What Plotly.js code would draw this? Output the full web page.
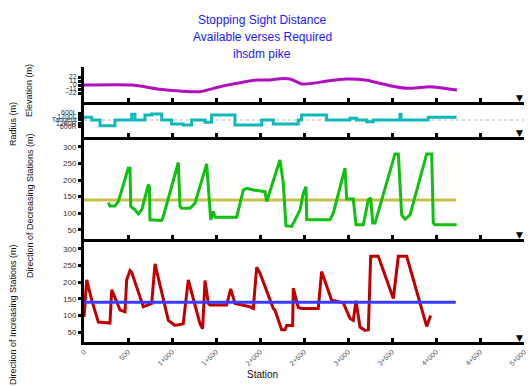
<!DOCTYPE html>
<html>
<head>
<meta charset="utf-8">
<script src="https://cdn.plot.ly/plotly-3.0.1.min.js"></script>
<style>html,body{margin:0;padding:0;background:#fff;}#chart{width:532px;height:387px;}</style>
</head>
<body>
<div id="chart"></div>
<script>
// ---- Data ----
const stationTicks = [0, 500, 1000, 1500, 2000, 2500, 3000, 3500, 4000, 4500, 5000];
const stationTickText = ["0", "500", "1+000", "1+500", "2+000", "2+500", "3+000", "3+500", "4+000", "4+500", "5+000"];

const elevStation = [0, 545, 864, 1091, 1318, 1545, 1738, 1966, 2113, 2227, 2340, 2477, 2602, 2761, 2988, 3215, 3283, 3477, 3670, 3931, 4045, 4238];
const elevValue   = [0, 0, -11.8, -16.5, -18.4, -4.6, 4.7, 13.8, 13.8, 17.3, 16.5, 2.8, 4.7, 11, 16.5, 12.9, 9.1, -1.9, -9.1, -4.6, -7.4, -13.8];
const elevTicks = [22, 11, 0, -11, -22];

// curvature = 1000 / R  (left curves positive, right curves negative)
const curveStation = [0, 87, 182, 352, 542, 579, 693, 769, 883, 996, 1128, 1223, 1375, 1450, 1715, 2019, 2151, 2435, 2473, 2757, 3022, 3098, 3212, 3287, 3590, 3602, 3911, 4234];
const curvature    = [0.64, 0, -1.36, 0, 1.36, 0, 1.19, 1.43, 0, -0.95, -1.19, 0, -0.55, 1.19, -1.19, 0, -0.95, 0, 1.19, 0, 0.40, 0, -0.40, 0, 1.36, 0, 0.64, 0.64];
const curveTicks = [1.667, 0.833, 0, -0.833, -1.667];
const curveTickText = ["600L", "1200L", "Tangent", "1200R", "600R"];

const decStation = [276, 295, 352, 390, 503, 523, 531, 580, 617, 656, 731, 744, 750, 883, 901, 1072, 1091, 1110, 1205, 1261, 1394, 1424, 1440, 1469, 1489, 1735, 1810, 1849, 1924, 2057, 2076, 2227, 2265, 2295, 2360, 2455, 2492, 2523, 2531, 2795, 2833, 2966, 2985, 3060, 3091, 3174, 3231, 3258, 3281, 3307, 3534, 3572, 3610, 3648, 3705, 3894, 3951, 3969, 3989, 4235];
const decAvailable = [132, 122, 122, 135, 236, 236, 120, 110, 98, 110, 186, 180, 80, 78, 90, 253, 120, 115, 115, 130, 249, 120, 80, 105, 88, 88, 170, 175, 170, 165, 135, 261, 190, 62, 60, 110, 160, 180, 80, 80, 100, 236, 143, 143, 65, 65, 140, 146, 70, 70, 279, 279, 95, 82, 95, 279, 279, 70, 65, 65];

const incStation = [0, 31, 88, 163, 295, 315, 372, 409, 466, 485, 523, 542, 674, 731, 769, 807, 958, 1034, 1128, 1185, 1318, 1348, 1375, 1413, 1432, 1621, 1667, 1716, 1886, 1924, 1962, 2000, 2151, 2170, 2246, 2284, 2303, 2371, 2378, 2435, 2473, 2662, 2700, 2814, 2946, 3023, 3060, 3091, 3136, 3193, 3231, 3258, 3344, 3515, 3572, 3667, 3894, 3939];
const incAvailable = [95, 207, 146, 80, 77, 177, 141, 116, 111, 207, 235, 230, 126, 131, 136, 255, 85, 70, 75, 207, 75, 60, 205, 136, 131, 131, 180, 136, 126, 121, 245, 227, 121, 116, 57, 57, 70, 70, 182, 124, 121, 121, 232, 146, 138, 91, 85, 144, 65, 55, 57, 278, 278, 151, 278, 278, 67, 100];

const reqStation = [0, 4225];
const reqDecreasing = [140, 140];
const reqIncreasing = [140, 140];
const ssdTicks = [50, 100, 150, 200, 250, 300];

// ---- Traces ----
const traces = [
  {x: incStation, y: incAvailable, xaxis: 'x', yaxis: 'y', mode: 'lines', line: {color: '#c00000', width: 3}},
  {x: reqStation, y: reqIncreasing, xaxis: 'x', yaxis: 'y', mode: 'lines', line: {color: '#3a3aff', width: 3}},
  {x: reqStation, y: reqDecreasing, xaxis: 'x2', yaxis: 'y2', mode: 'lines', line: {color: '#c8c04a', width: 3}},
  {x: decStation, y: decAvailable, xaxis: 'x2', yaxis: 'y2', mode: 'lines', line: {color: '#10c010', width: 3}},
  {x: curveStation, y: curvature, xaxis: 'x3', yaxis: 'y3', mode: 'lines', line: {color: '#10b8b8', width: 3, shape: 'hv'}},
  {x: elevStation, y: elevValue, xaxis: 'x4', yaxis: 'y4', mode: 'lines', line: {color: '#b010c0', width: 3, shape: 'spline', smoothing: 0.6}}
];

const xBase = {
  range: [0, 5000], showline: true, linecolor: '#000', linewidth: 3,
  ticks: 'inside', ticklen: 4, tickwidth: 3, tickcolor: '#000',
  tickvals: stationTicks, ticktext: stationTickText,
  showgrid: false, zeroline: false, fixedrange: true
};
const yBase = {
  showline: true, linecolor: '#000', linewidth: 3,
  ticks: 'outside', ticklen: 3, tickwidth: 3, tickcolor: '#000',
  tickfont: {size: 8, color: '#333'},
  showgrid: false, zeroline: false, fixedrange: true
};

const F = 'Liberation Sans, Arial, sans-serif';
const L = 84, T = 67, PW = 440, PH = 275;
const px = v => (v - L) / PW;
const py = v => (T + PH - v) / PH;

function ytitle(text, xPix, yPix) {
  return {text: text, xref: 'paper', yref: 'paper', x: px(xPix), y: py(yPix),
    textangle: -90, showarrow: false, xanchor: 'center', yanchor: 'middle',
    font: {family: F, size: 9, color: '#111'}};
}
function tri(yPix) {
  return {text: '▼', xref: 'paper', yref: 'paper', x: px(519), y: py(yPix),
    showarrow: false, xanchor: 'center', yanchor: 'middle',
    font: {family: 'DejaVu Sans', size: 9, color: '#000'}};
}

const layout = {
  width: 532, height: 387,
  margin: {l: L, r: 8, t: T, b: 45},
  paper_bgcolor: '#fff', plot_bgcolor: '#fff',
  showlegend: false,
  font: {family: F},
  xaxis: Object.assign({}, xBase, {anchor: 'y', tickangle: -45, tickfont: {size: 7, color: '#555'}}),
  xaxis2: Object.assign({}, xBase, {anchor: 'y2', showticklabels: false}),
  xaxis3: Object.assign({}, xBase, {anchor: 'y3', showticklabels: false}),
  xaxis4: Object.assign({}, xBase, {anchor: 'y4', showticklabels: false}),
  yaxis: Object.assign({}, yBase, {domain: [0, 0.3745], anchor: 'x', range: [20, 330], tickvals: ssdTicks}),
  yaxis2: Object.assign({}, yBase, {domain: [0.3745, 0.7455], anchor: 'x2', range: [22, 330], tickvals: ssdTicks}),
  yaxis3: Object.assign({}, yBase, {domain: [0.7455, 0.8727], anchor: 'x3', range: [-4.05, 4.29], tickvals: curveTicks, ticktext: curveTickText, tickfont: {size: 7, color: '#333'}}),
  yaxis4: Object.assign({}, yBase, {domain: [0.8727, 1], anchor: 'x4', range: [-46.75, 49.5], tickvals: elevTicks, tickfont: {size: 7, color: '#333'}}),
  shapes: [
    {type: 'line', xref: 'paper', x0: 0, x1: 1, yref: 'y3', y0: 0, y1: 0, line: {color: '#b8b8b8', width: 1, dash: 'dot'}, layer: 'below'}
  ],
  annotations: [
    {text: 'Stopping Sight Distance', xref: 'paper', yref: 'paper', x: px(262), y: py(20), showarrow: false, xanchor: 'center', yanchor: 'middle', font: {family: F, size: 12, color: '#1a1aff'}},
    {text: 'Available verses Required', xref: 'paper', yref: 'paper', x: px(262), y: py(37), showarrow: false, xanchor: 'center', yanchor: 'middle', font: {family: F, size: 12, color: '#1a1aff'}},
    {text: 'ihsdm pike', xref: 'paper', yref: 'paper', x: px(262), y: py(53.5), showarrow: false, xanchor: 'center', yanchor: 'middle', font: {family: F, size: 12, color: '#1a1aff'}},
    {text: 'Station', xref: 'paper', yref: 'paper', x: px(262), y: py(374), showarrow: false, xanchor: 'center', yanchor: 'middle', font: {family: F, size: 10, color: '#111'}},
    ytitle('Elevation (m)', 29, 91),
    ytitle('Radius (m)', 13, 124),
    ytitle('Direction of Decreasing Stations (m)', 30, 206),
    ytitle('Direction of Increasing Stations (m)', 13, 315),
    tri(98), tri(133), tri(235), tri(338)
  ]
};

Plotly.newPlot('chart', traces, layout, {displayModeBar: false, staticPlot: true});
</script>
</body>
</html>
